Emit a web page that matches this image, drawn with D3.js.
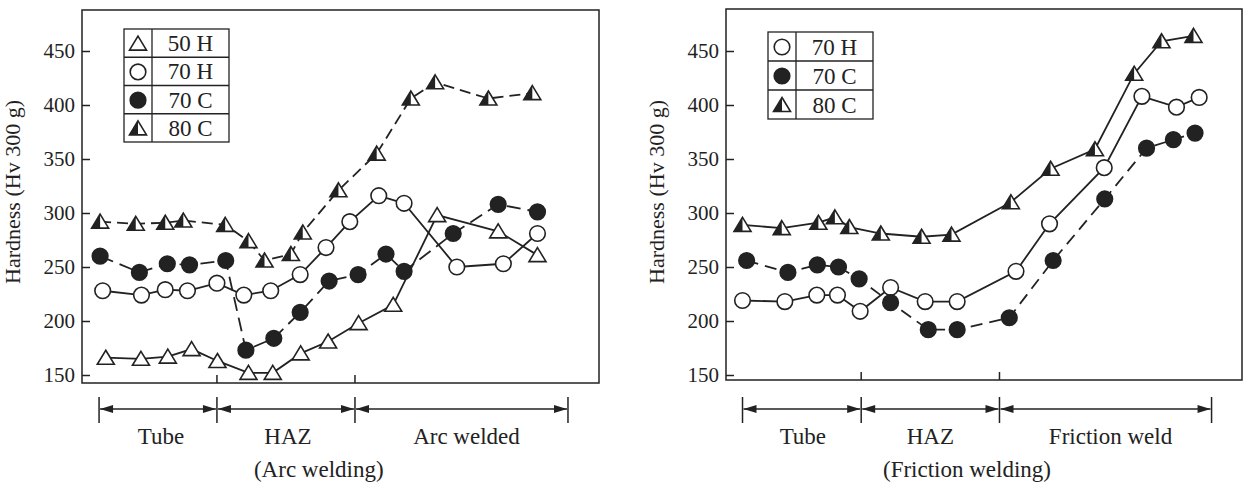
<!DOCTYPE html>
<html>
<head>
<meta charset="utf-8">
<script src="https://cdn.jsdelivr.net/npm/d3@7"></script>
<style>
    body { margin: 0; background: #fff; }
    svg text { font-family: "Liberation Serif", "Times New Roman", serif; fill: #222; }
</style>
</head>
<body>
<div id="chart"></div>
<script>
// hardness axis ticks
const hvTicks = [150, 200, 250, 300, 350, 400, 450];

// --- arc welding (positions are relative distance along the specimen, 0-100) ---
const arcRegions = ["Tube", "HAZ", "Arc welded"];
const arcBounds = [3.3, 26.1, 52.8, 94.0];
const arcLegend = ["50 H", "70 H", "70 C", "80 C"];

const arc50H_pos = [4.6, 11.4, 16.6, 21.2, 26.2, 32.2, 36.9, 42.3, 47.6, 53.5, 60.2, 68.7, 80.5, 88.1];
const arc50H_hv  = [166, 165, 167, 174, 163, 152, 152, 170, 181, 198, 215, 298, 283, 261];

const arc70H_pos = [4.0, 11.5, 16.1, 20.4, 26.1, 31.3, 36.5, 42.2, 47.2, 51.8, 57.4, 62.3, 72.5, 81.5, 88.1];
const arc70H_hv  = [228, 224, 229, 228, 235, 224, 228, 243, 268, 292, 316, 309, 250, 253, 281];

const arc70C_pos = [3.5, 11.1, 16.5, 20.8, 27.8, 31.7, 37.1, 42.2, 47.8, 53.4, 58.8, 62.3, 71.8, 80.5, 88.1];
const arc70C_hv  = [260, 245, 253, 252, 256, 173, 184, 208, 237, 243, 262, 246, 281, 308, 301];

const arc80C_pos = [3.5, 10.4, 16.1, 19.6, 27.7, 32.2, 35.3, 40.4, 42.7, 49.6, 57.0, 63.6, 68.3, 78.6, 87.1];
const arc80C_hv  = [292, 290, 291, 293, 289, 274, 256, 262, 282, 321, 355, 406, 421, 406, 411];

// --- friction welding ---
const fricRegions = ["Tube", "HAZ", "Friction weld"];
const fricBounds = [3.2, 26.2, 53.0, 94.1];
const fricLegend = ["70 H", "70 C", "80 C"];

const fric70H_pos = [3.2, 11.4, 17.6, 21.6, 26.0, 31.9, 38.6, 44.8, 56.2, 62.7, 73.3, 80.6, 87.3, 91.7];
const fric70H_hv  = [219, 218, 224, 224, 209, 231, 218, 218, 246, 290, 342, 408, 398, 407];

const fric70C_pos = [4.0, 12.0, 17.7, 21.8, 25.8, 31.9, 39.2, 44.8, 54.9, 63.4, 73.4, 81.5, 86.7, 90.9];
const fric70C_hv  = [256, 245, 252, 250, 239, 217, 192, 192, 203, 256, 313, 360, 368, 374];

const fric80C_pos = [3.2, 10.8, 17.9, 21.1, 23.9, 30.0, 37.9, 43.7, 55.2, 62.9, 71.5, 79.1, 84.4, 90.6];
const fric80C_hv  = [289, 286, 291, 296, 287, 281, 278, 280, 310, 341, 359, 429, 459, 464];

const ink = "#222";
const textSize = 23;

const svg = d3.select("#chart").append("svg")
    .attr("width", 1248)
    .attr("height", 485);

// marker shapes
function drawMarker(sel, type) {
    if (type === "circle" || type === "dot") {
        sel.append("circle")
            .attr("r", 7.8)
            .attr("fill", type === "dot" ? ink : "#fff")
            .attr("stroke", ink)
            .attr("stroke-width", 1.6);
    } else {
        sel.append("path")
            .attr("d", "M0,-7.5L8.5,6.5L-8.5,6.5Z")
            .attr("fill", "#fff")
            .attr("stroke", ink)
            .attr("stroke-width", 1.6)
            .attr("stroke-linejoin", "miter");
        if (type === "half") {
            sel.append("path")
                .attr("d", "M0,-7.5L0,6.5L-8.5,6.5Z")
                .attr("fill", ink);
        }
    }
}

function drawPanel(p) {
    let g = svg.append("g");

    let x = d3.scaleLinear().domain([0, 100]).range([p.left, p.right]);
    let y = d3.scaleLinear().domain([150, 450]).range([375, 51]);

    // frame
    g.append("rect")
        .attr("x", p.left)
        .attr("y", p.top)
        .attr("width", p.right - p.left)
        .attr("height", p.bottom - p.top)
        .attr("fill", "none")
        .attr("stroke", ink)
        .attr("stroke-width", 1.5);

    // y axis, ticks pointing inwards
    let yAxis = g.append("g")
        .attr("transform", `translate(${p.left},0)`)
        .call(d3.axisLeft(y).tickValues(hvTicks).tickSize(-8).tickPadding(7));
    yAxis.select(".domain").remove();
    yAxis.selectAll("line").attr("stroke", ink).attr("stroke-width", 1.5);
    yAxis.selectAll("text")
        .attr("font-size", 21)
        .attr("font-family", null)
        .attr("fill", ink);

    // inward x ticks at region boundaries
    g.selectAll(".xtick")
        .data(p.bounds.slice(1, 3))
        .enter().append("line")
        .attr("x1", d => x(d)).attr("x2", d => x(d))
        .attr("y1", p.bottom).attr("y2", p.bottom - 8)
        .attr("stroke", ink).attr("stroke-width", 1.5);

    // axis title
    g.append("text")
        .attr("transform", `translate(${p.left - 62},192) rotate(-90)`)
        .attr("text-anchor", "middle")
        .attr("font-size", 22)
        .text("Hardness (Hv 300 g)");

    // lines first, then markers on top
    let line = d3.line().x(d => x(d[0])).y(d => y(d[1]));

    p.series.forEach(s => {
        g.append("path")
            .datum(d3.zip(s.pos, s.hv))
            .attr("d", line)
            .attr("fill", "none")
            .attr("stroke", ink)
            .attr("stroke-width", 1.8)
            .attr("stroke-dasharray", s.dash);
    });

    p.series.forEach(s => {
        g.selectAll(null)
            .data(d3.zip(s.pos, s.hv))
            .enter().append("g")
            .attr("transform", d => `translate(${x(d[0])},${y(d[1])})`)
            .each(function () { drawMarker(d3.select(this), s.marker); });
    });

    // legend table
    let lg = p.legend;
    let rowH = (lg.y1 - lg.y0) / p.series.length;
    let leg = g.append("g");
    leg.append("rect")
        .attr("x", lg.x0).attr("y", lg.y0)
        .attr("width", lg.x1 - lg.x0).attr("height", lg.y1 - lg.y0)
        .attr("fill", "#fff").attr("stroke", ink).attr("stroke-width", 1.3);
    leg.append("line")
        .attr("x1", lg.xm).attr("x2", lg.xm)
        .attr("y1", lg.y0).attr("y2", lg.y1)
        .attr("stroke", ink).attr("stroke-width", 1.3);
    p.series.forEach((s, i) => {
        let cy = lg.y0 + rowH * (i + 0.5);
        if (i > 0) {
            leg.append("line")
                .attr("x1", lg.x0).attr("x2", lg.x1)
                .attr("y1", lg.y0 + rowH * i).attr("y2", lg.y0 + rowH * i)
                .attr("stroke", ink).attr("stroke-width", 1.3);
        }
        let m = leg.append("g").attr("transform", `translate(${(lg.x0 + lg.xm) / 2},${cy + 0.5})`);
        drawMarker(m, s.marker);
        leg.append("text")
            .attr("x", (lg.xm + lg.x1) / 2)
            .attr("y", cy)
            .attr("dy", "0.35em")
            .attr("text-anchor", "middle")
            .attr("font-size", textSize)
            .text(s.name);
    });

    // region arrows under the chart
    let ay = 409;
    let ann = g.append("g");
    ann.selectAll("line.bar")
        .data(p.bounds)
        .enter().append("line")
        .attr("x1", d => x(d)).attr("x2", d => x(d))
        .attr("y1", 397).attr("y2", 423)
        .attr("stroke", ink).attr("stroke-width", 1.5);

    p.regions.forEach((name, i) => {
        let a = x(p.bounds[i]) + 1, b = x(p.bounds[i + 1]) - 1;
        ann.append("line")
            .attr("x1", a).attr("x2", b)
            .attr("y1", ay).attr("y2", ay)
            .attr("stroke", ink).attr("stroke-width", 1.3);
        ann.append("path")
            .attr("d", `M${a},${ay}L${a + 13},${ay - 4}L${a + 13},${ay + 4}Z`)
            .attr("fill", ink);
        ann.append("path")
            .attr("d", `M${b},${ay}L${b - 13},${ay - 4}L${b - 13},${ay + 4}Z`)
            .attr("fill", ink);
        ann.append("text")
            .attr("x", (a + b) / 2 + p.labelShift[i])
            .attr("y", 444)
            .attr("text-anchor", "middle")
            .attr("font-size", textSize)
            .text(name);
    });

    g.append("text")
        .attr("x", x(p.captionPos))
        .attr("y", 477)
        .attr("text-anchor", "middle")
        .attr("font-size", textSize)
        .text(p.caption);
}

drawPanel({
    left: 82, right: 599, top: 10, bottom: 383,
    bounds: arcBounds,
    regions: arcRegions,
    labelShift: [3, 2, 5],
    caption: "(Arc welding)",
    captionPos: 45.8,
    legend: {x0: 124, x1: 229, xm: 152, y0: 29, y1: 142},
    series: [
        {name: arcLegend[0], pos: arc50H_pos, hv: arc50H_hv, marker: "tri", dash: null},
        {name: arcLegend[1], pos: arc70H_pos, hv: arc70H_hv, marker: "circle", dash: null},
        {name: arcLegend[2], pos: arc70C_pos, hv: arc70C_hv, marker: "dot", dash: "14,7"},
        {name: arcLegend[3], pos: arc80C_pos, hv: arc80C_hv, marker: "half", dash: "11,6"}
    ]
});

drawPanel({
    left: 726, right: 1242, top: 9, bottom: 380,
    bounds: fricBounds,
    regions: fricRegions,
    labelShift: [1, 0, 5],
    caption: "(Friction welding)",
    captionPos: 46.7,
    legend: {x0: 768, x1: 873, xm: 796, y0: 32, y1: 119},
    series: [
        {name: fricLegend[0], pos: fric70H_pos, hv: fric70H_hv, marker: "circle", dash: null},
        {name: fricLegend[1], pos: fric70C_pos, hv: fric70C_hv, marker: "dot", dash: "12,7"},
        {name: fricLegend[2], pos: fric80C_pos, hv: fric80C_hv, marker: "half", dash: null}
    ]
});
</script>
</body>
</html>
